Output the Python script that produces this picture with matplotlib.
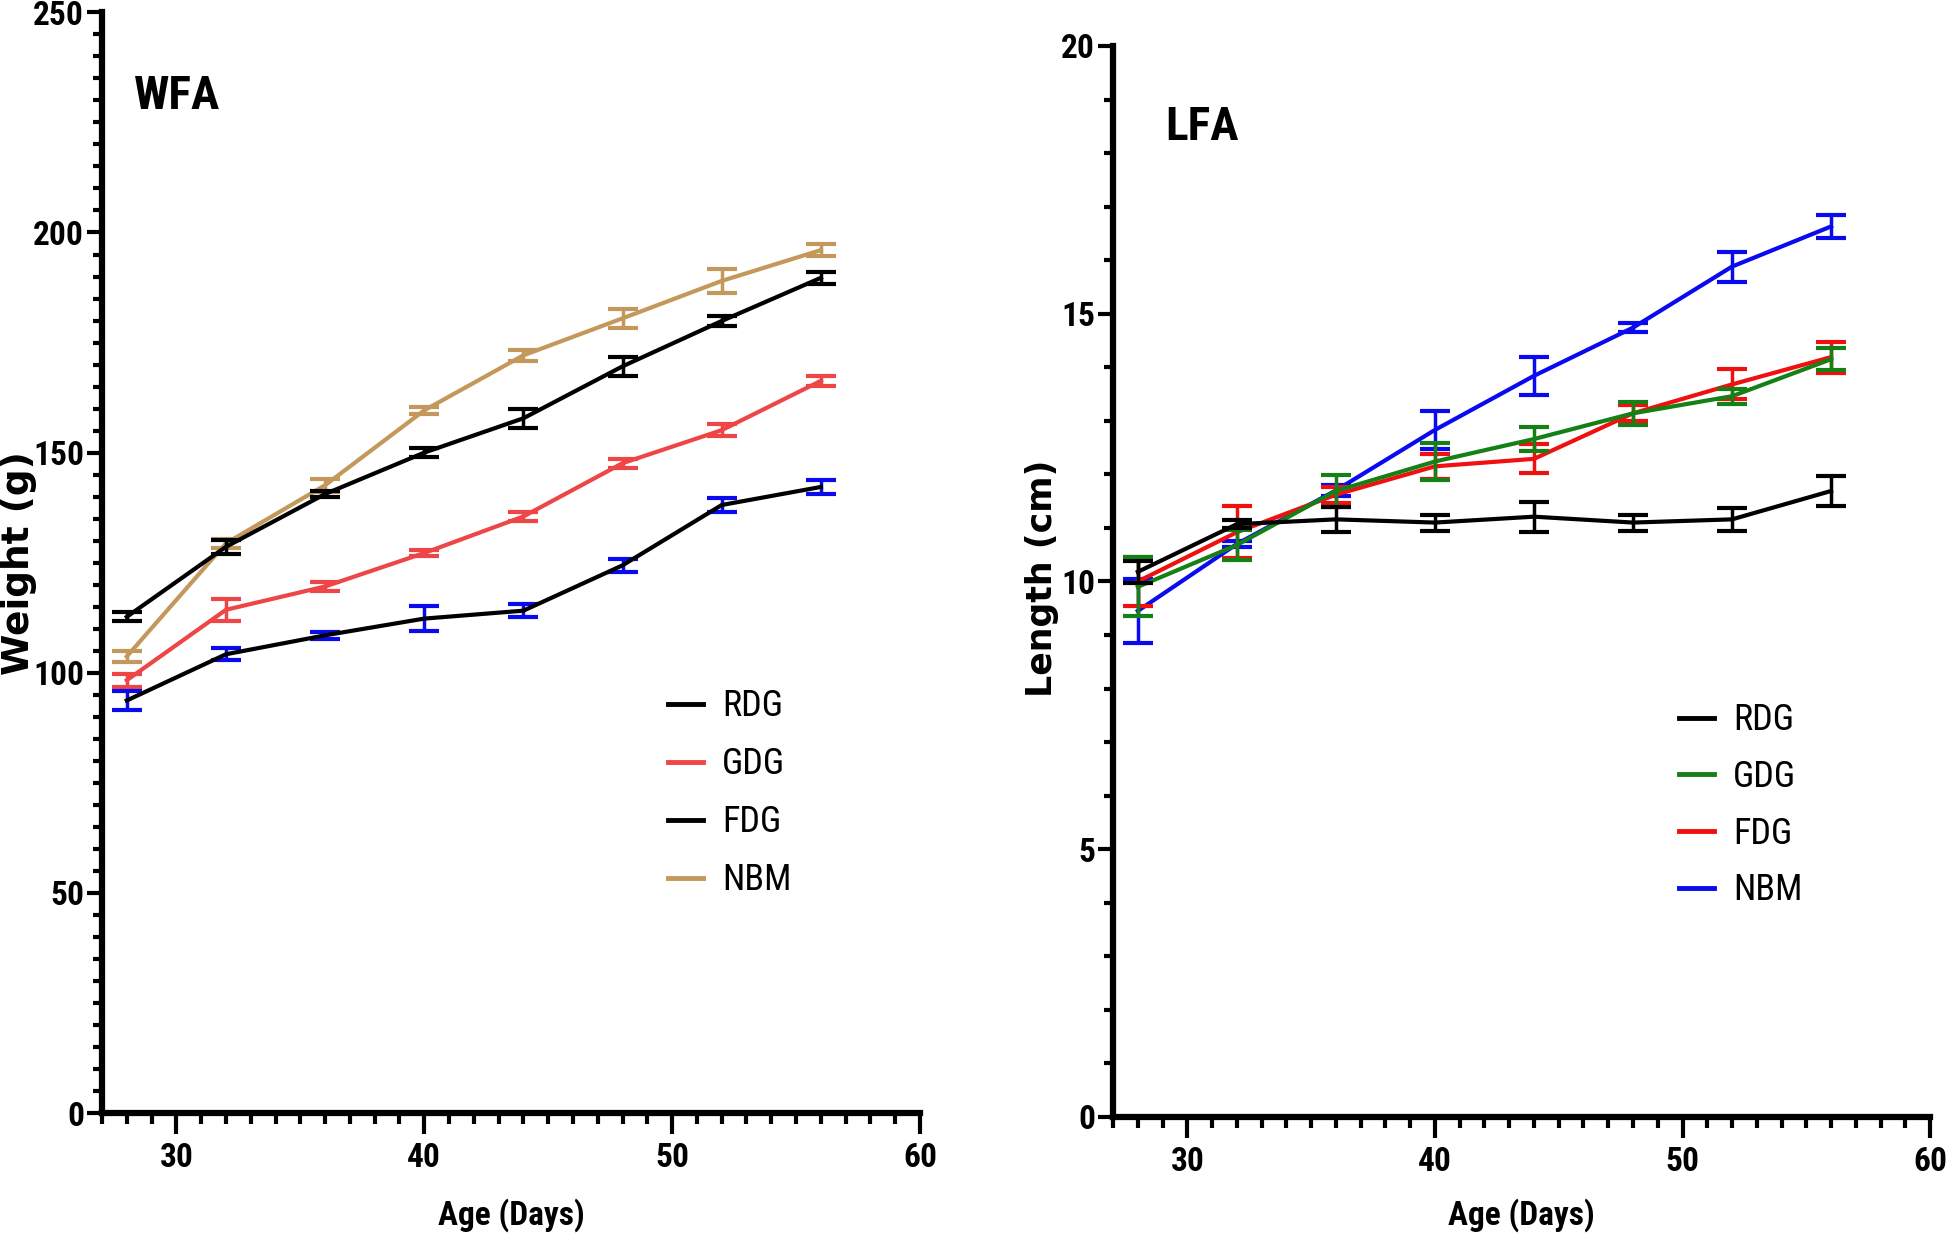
import matplotlib
matplotlib.use("Agg")
import matplotlib.pyplot as plt
from matplotlib import font_manager
from matplotlib.lines import Line2D
from matplotlib.ticker import MultipleLocator

# età in giorni
days = [28, 32, 36, 40, 44, 48, 52, 56]

# WFA: peso (g), media e errore
wfa_rdg = [112.7, 128.6, 140.6, 150.0, 157.8, 169.6, 179.9, 189.7]
wfa_rdg_err = [1.0, 1.6, 0.7, 1.1, 2.1, 2.1, 1.2, 1.3]
wfa_gdg = [98.3, 114.3, 119.6, 127.2, 135.5, 147.6, 155.1, 166.3]
wfa_gdg_err = [1.5, 2.5, 1.0, 0.7, 1.1, 1.0, 1.3, 1.2]
wfa_fdg = [93.7, 104.2, 108.5, 112.3, 114.1, 124.4, 138.1, 142.2]
wfa_fdg_err = [2.1, 1.4, 0.8, 2.9, 1.5, 1.5, 1.5, 1.6]
wfa_nbm = [103.7, 129.4, 142.6, 159.6, 172.1, 180.5, 189.0, 196.0]
wfa_nbm_err = [1.2, 1.0, 1.5, 0.8, 1.2, 2.1, 2.7, 1.4]

# LFA: lunghezza (cm), media e errore
lfa_rdg = [10.18, 11.07, 11.16, 11.10, 11.21, 11.10, 11.16, 11.69]
lfa_rdg_err = [0.20, 0.08, 0.24, 0.15, 0.28, 0.15, 0.21, 0.28]
lfa_gdg = [9.90, 10.68, 11.69, 12.24, 12.66, 13.14, 13.46, 14.15]
lfa_gdg_err = [0.55, 0.28, 0.30, 0.34, 0.22, 0.21, 0.14, 0.21]
lfa_fdg = [10.00, 10.92, 11.62, 12.15, 12.29, 13.14, 13.68, 14.19]
lfa_fdg_err = [0.45, 0.49, 0.15, 0.23, 0.27, 0.15, 0.28, 0.29]
lfa_nbm = [9.45, 10.70, 11.70, 12.83, 13.84, 14.74, 15.88, 16.63]
lfa_nbm_err = [0.60, 0.05, 0.10, 0.35, 0.35, 0.08, 0.28, 0.21]

groups = ["RDG", "GDG", "FDG", "NBM"]


def pick_narrow():
    # cerca un font stretto (stile Helvetica Condensed), altrimenti Liberation Sans
    fonts = font_manager.fontManager.ttflist
    names = {f.name for f in fonts}
    for name in ("Liberation Sans Narrow", "Roboto Condensed", "Open Sans Condensed"):
        if name in names:
            return name, "normal"
    for f in fonts:
        if f.name == "DejaVu Sans" and f.stretch not in ("normal", 500):
            return "DejaVu Sans", "condensed"
    return "Liberation Sans", "normal"


NARROW, STRETCH = pick_narrow()
WIDE = "DejaVu Sans"
NARROW_FS = 1.0 if STRETCH == "condensed" or NARROW != "Liberation Sans" else 0.92


def fnarrow(size, weight="bold"):
    return {"fontfamily": NARROW, "fontstretch": STRETCH, "fontweight": weight,
            "fontsize": size * NARROW_FS}


def style_axes(ax, ymax, ymajor, yminor):
    ax.set_xlim(27, 60)
    ax.set_ylim(0, ymax)
    for side in ("top", "right"):
        ax.spines[side].set_visible(False)
    for side in ("left", "bottom"):
        ax.spines[side].set_linewidth(4.5)
    ax.xaxis.set_major_locator(MultipleLocator(10))
    ax.xaxis.set_minor_locator(MultipleLocator(1))
    ax.yaxis.set_major_locator(MultipleLocator(ymajor))
    ax.yaxis.set_minor_locator(MultipleLocator(yminor))
    ax.tick_params(axis="x", which="major", length=15, width=3, pad=6)
    ax.tick_params(axis="x", which="minor", length=8, width=3)
    ax.tick_params(axis="y", which="major", length=11, width=3, pad=2)
    ax.tick_params(axis="y", which="minor", length=6.5, width=3)
    for lab in ax.get_xticklabels() + ax.get_yticklabels():
        lab.update(fnarrow(24))


def serie(ax, y, err, color, ecolor, z):
    ax.errorbar(days, y, yerr=err, color=color, ecolor=ecolor, lw=3,
                elinewidth=2.5, capsize=11, capthick=3, zorder=z, clip_on=False)


def legenda(ax, colors, x, y, spacing):
    handles = [Line2D([], [], color=c, lw=3.5) for c in colors]
    prop = font_manager.FontProperties(family=NARROW, stretch=STRETCH, size=26 * NARROW_FS)
    ax.legend(handles, groups, loc="upper left", bbox_to_anchor=(x, y),
              frameon=False, borderpad=0, borderaxespad=0, handlelength=0.97,
              handletextpad=0.52, labelspacing=spacing, prop=prop)


fig = plt.figure(figsize=(19.5, 12.36), dpi=100)
ax1 = fig.add_axes([0.0523, 0.0995, 0.4195, 0.8905])
ax2 = fig.add_axes([0.5708, 0.0963, 0.419, 0.8665])

# pannello WFA
tan = "#C4975A"
red1 = "#EE4646"
blue1 = "#0A0AEE"
serie(ax1, wfa_rdg, wfa_rdg_err, "black", "black", 3)
serie(ax1, wfa_gdg, wfa_gdg_err, red1, red1, 3)
serie(ax1, wfa_fdg, wfa_fdg_err, "black", blue1, 3)
serie(ax1, wfa_nbm, wfa_nbm_err, tan, tan, 2)
style_axes(ax1, 250, 50, 5)
ax1.set_ylabel("Weight (g)", fontfamily=WIDE, fontweight="bold", fontsize=27, va="center")
ax1.yaxis.set_label_coords(-0.102, 0.5)
ax1.set_xlabel("Age (Days)", va="top", **fnarrow(24))
ax1.xaxis.set_label_coords(0.5, -0.077)
ax1.text(0.039, 0.912, "WFA", transform=ax1.transAxes, va="baseline", **fnarrow(34))
legenda(ax1, ["black", red1, "black", tan], 0.692, 0.386, 0.61)

# pannello LFA
green = "#158015"
red2 = "#F01010"
blue = "#0A0AF0"
serie(ax2, lfa_nbm, lfa_nbm_err, blue, blue, 2)
serie(ax2, lfa_fdg, lfa_fdg_err, red2, red2, 3)
serie(ax2, lfa_gdg, lfa_gdg_err, green, green, 4)
serie(ax2, lfa_rdg, lfa_rdg_err, "black", "black", 5)
style_axes(ax2, 20, 5, 1)
ax2.set_ylabel("Length (cm)", fontfamily=WIDE, fontweight="bold", fontsize=25, va="center")
ax2.yaxis.set_label_coords(-0.087, 0.503)
ax2.set_xlabel("Age (Days)", va="top", **fnarrow(24))
ax2.xaxis.set_label_coords(0.5, -0.0756)
ax2.text(0.064, 0.912, "LFA", transform=ax2.transAxes, va="baseline", **fnarrow(34))
legenda(ax2, ["black", green, red2, blue], 0.693, 0.387, 0.57)

fig.savefig("out.png", dpi=100)
